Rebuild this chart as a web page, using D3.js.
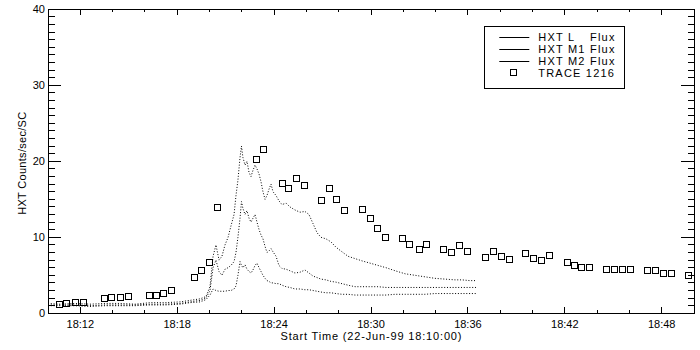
<!DOCTYPE html>
<html>
<head>
<meta charset="utf-8">
<script src="https://cdn.jsdelivr.net/npm/d3@7"></script>
<style>
  html, body { margin: 0; padding: 0; background: #fff; }
  svg { display: block; }
  text { font-family: "Liberation Sans", Arial, sans-serif; fill: #000; }
</style>
</head>
<body>
<svg id="chart" width="700" height="350"></svg>
<script>
// ---- Data (time in minutes after 18:10:00) ----
const hxtTime = [0.00,0.74,1.67,2.60,3.53,4.46,5.39,6.32,7.25,8.17,8.79,9.41,9.78,10.03,10.22,10.40,10.59,10.77,10.96,11.15,11.33,11.52,11.64,11.76,11.89,11.98,12.07,12.20,12.32,12.45,12.57,12.69,12.82,12.94,13.07,13.19,13.31,13.44,13.56,13.68,13.81,13.93,14.12,14.30,14.49,14.74,14.98,15.29,15.60,15.91,16.16,16.41,16.66,16.90,17.21,17.52,17.83,18.20,18.58,19.01,19.44,19.94,20.43,20.93,21.49,22.11,22.72,23.34,23.96,24.58,25.20,25.63,26.13,26.50];
const hxtL  = [1.3,1.2,1.3,1.2,1.3,1.3,1.2,1.4,1.4,1.5,1.7,1.9,2.2,3.5,7.5,9.0,7.0,7.5,9.0,10.0,11.5,13.0,15.5,17.5,20.5,22.0,20.5,19.5,20.0,18.5,18.0,18.8,19.5,19.0,18.3,17.3,16.0,15.0,15.5,16.3,17.0,16.0,15.5,14.8,14.3,14.5,14.0,13.6,13.3,13.4,13.0,11.8,10.6,10.0,9.8,9.4,8.7,8.1,7.5,7.2,6.9,6.6,6.3,6.0,5.6,5.2,5.0,4.8,4.6,4.5,4.4,4.4,4.3,4.3];
const hxtM1 = [1.1,1.1,1.1,1.0,1.1,1.1,1.1,1.2,1.2,1.3,1.5,1.7,2.0,3.0,6.0,7.0,5.5,5.0,5.8,6.0,6.3,6.8,8.0,10.0,12.5,14.7,13.8,13.0,13.5,12.5,12.0,12.5,13.0,12.0,11.0,10.3,9.8,8.8,8.0,8.2,8.5,8.1,7.5,6.3,5.9,5.8,5.6,5.3,5.4,5.7,5.3,4.9,4.7,4.5,4.4,4.2,4.1,3.9,3.7,3.5,3.5,3.5,3.5,3.4,3.4,3.4,3.4,3.4,3.4,3.4,3.4,3.4,3.4,3.4];
const hxtM2 = [1.0,1.0,1.0,0.9,1.0,1.0,1.0,1.1,1.1,1.2,1.4,1.5,1.8,2.4,3.2,3.0,2.9,2.9,2.9,3.0,3.0,3.2,3.6,5.0,6.8,6.3,6.0,6.4,5.8,5.5,5.3,5.7,6.3,6.6,6.0,5.5,5.0,4.6,4.3,4.2,4.0,4.0,3.9,3.9,3.7,3.5,3.4,3.2,3.2,3.1,3.1,3.0,2.9,2.8,2.7,2.7,2.6,2.5,2.5,2.4,2.4,2.4,2.4,2.4,2.5,2.5,2.5,2.5,2.6,2.6,2.6,2.6,2.6,2.6];

const traceTime = [0.66,1.13,1.65,2.14,3.48,3.90,4.43,4.93,6.27,6.68,7.15,7.63,9.01,9.46,9.95,10.46,12.85,13.34,14.48,14.89,15.38,15.88,16.93,17.39,17.86,18.35,19.43,19.94,20.40,20.89,21.94,22.38,22.96,23.43,24.48,24.96,25.47,25.97,27.08,27.54,28.03,28.53,29.54,30.01,30.54,31.04,32.12,32.55,33.02,33.51,34.57,35.06,35.56,36.05,37.07,37.56,38.06,38.55,39.64];
const traceFlux = [1.22,1.39,1.49,1.49,1.97,2.10,2.10,2.28,2.37,2.37,2.67,3.03,4.78,5.67,6.71,13.95,20.26,21.58,17.10,16.45,17.76,16.84,14.87,16.45,15.00,13.55,13.68,12.50,11.18,10.04,9.91,9.12,8.42,9.12,8.42,8.07,8.95,8.20,7.37,8.16,7.54,7.10,7.89,7.24,7.01,7.63,6.75,6.32,6.13,6.05,5.79,5.79,5.79,5.79,5.70,5.70,5.34,5.26,5.00];

const xMajorTicks = [2, 8, 14, 20, 26, 32, 38];
const xTickLabels = ["18:12", "18:18", "18:24", "18:30", "18:36", "18:42", "18:48"];
const yMajorTicks = [0, 10, 20, 30, 40];
const yTickLabels = ["0", "10", "20", "30", "40"];
const legendLabels = ["HXT L", "HXT M1", "HXT M2", "TRACE 1216"];
const xTitle = "Start Time (22-Jun-99 18:10:00)";
const yTitle = "HXT Counts/sec/SC";

// ---- Layout ----
const L = 48, R = 694, T = 9.3, B = 313.3;
const svg = d3.select("#chart");
const x = d3.scaleLinear().domain([0, 40]).range([L, R]);
const y = d3.scaleLinear().domain([0, 40]).range([B, T]);

const xMinor = d3.range(0, 41, 2).filter(v => !xMajorTicks.includes(v));
const yMinor = d3.range(0, 41, 1).filter(v => !yMajorTicks.includes(v));

const axG = svg.append("g").attr("shape-rendering", "crispEdges").attr("stroke", "#000").attr("stroke-width", 1);
// Frame
axG.append("rect").attr("x", L).attr("y", T).attr("width", R - L).attr("height", B - T).attr("fill", "none");
// X ticks bottom & top
xMajorTicks.forEach(v => {
  axG.append("line").attr("x1", x(v)).attr("x2", x(v)).attr("y1", B).attr("y2", B - 6);
  axG.append("line").attr("x1", x(v)).attr("x2", x(v)).attr("y1", T).attr("y2", T + 6);
});
xMinor.forEach(v => {
  axG.append("line").attr("x1", x(v)).attr("x2", x(v)).attr("y1", B).attr("y2", B - 3);
  axG.append("line").attr("x1", x(v)).attr("x2", x(v)).attr("y1", T).attr("y2", T + 3);
});
// Y ticks left & right
yMajorTicks.forEach(v => {
  axG.append("line").attr("x1", L).attr("x2", L + 13).attr("y1", y(v)).attr("y2", y(v));
  axG.append("line").attr("x1", R).attr("x2", R - 13).attr("y1", y(v)).attr("y2", y(v));
});
yMinor.forEach(v => {
  axG.append("line").attr("x1", L).attr("x2", L + 6.5).attr("y1", y(v)).attr("y2", y(v));
  axG.append("line").attr("x1", R).attr("x2", R - 6.5).attr("y1", y(v)).attr("y2", y(v));
});

// Tick labels
xMajorTicks.forEach((v, i) => {
  svg.append("text").attr("x", x(v)).attr("y", 327.5).attr("text-anchor", "middle")
    .attr("font-size", 11).text(xTickLabels[i]);
});
yMajorTicks.forEach((v, i) => {
  svg.append("text").attr("x", 45).attr("y", y(v) + 3.6).attr("text-anchor", "end")
    .attr("font-size", 11).text(yTickLabels[i]);
});
// Axis titles
svg.append("text").attr("x", (L + R) / 2).attr("y", 339.5).attr("text-anchor", "middle")
  .attr("font-size", 11).attr("textLength", 181).attr("lengthAdjust", "spacing").text(xTitle);
svg.append("text").attr("transform", `translate(25.5,${(T + B) / 2 + 2}) rotate(-90)`)
  .attr("text-anchor", "middle").attr("font-size", 11).attr("textLength", 103).attr("lengthAdjust", "spacing").text(yTitle);

// HXT series as dotted traces
const line = d3.line().x(d => x(d[0])).y(d => y(d[1]));
[hxtL, hxtM1, hxtM2].forEach(series => {
  const pts = hxtTime.map((t, i) => [t, series[i]]);
  svg.append("path").attr("d", line(pts)).attr("fill", "none")
    .attr("stroke", "#000").attr("stroke-width", 1).attr("stroke-dasharray", "1,1.8");
});

// TRACE squares
svg.append("g").selectAll("rect").data(traceTime.map((t, i) => [t, traceFlux[i]])).join("rect")
  .attr("x", d => Math.round(x(d[0])) - 3 + 0.5).attr("y", d => Math.round(y(d[1])) - 3 + 0.5)
  .attr("width", 6).attr("height", 6).attr("fill", "none").attr("stroke", "#000").attr("stroke-width", 1);

// Legend
const lg = svg.append("g");
lg.append("rect").attr("x", 484.5).attr("y", 26.5).attr("width", 140).attr("height", 62)
  .attr("fill", "#fff").attr("stroke", "#000").attr("shape-rendering", "crispEdges");
const rowBase = [40.7, 52.7, 64.8, 76.8];
legendLabels.forEach((lab, i) => {
  const t = lg.append("text").attr("x", 538.3).attr("y", rowBase[i]).attr("font-size", 11)
    .attr("letter-spacing", 1.2);
  if (i < 3) {
    lg.append("line").attr("x1", 499.3).attr("x2", 529.3).attr("y1", Math.round(rowBase[i] - 3.5) + 0.5)
      .attr("y2", Math.round(rowBase[i] - 3.5) + 0.5).attr("stroke", "#000").attr("stroke-width", 1);
    t.append("tspan").text(lab + " ");
    t.append("tspan").attr("x", 590).text("Flux");
  } else {
    t.text(lab);
    lg.append("rect").attr("x", 510.5).attr("y", 69.5).attr("width", 6).attr("height", 6)
      .attr("fill", "none").attr("stroke", "#000");
  }
});
</script>
</body>
</html>
